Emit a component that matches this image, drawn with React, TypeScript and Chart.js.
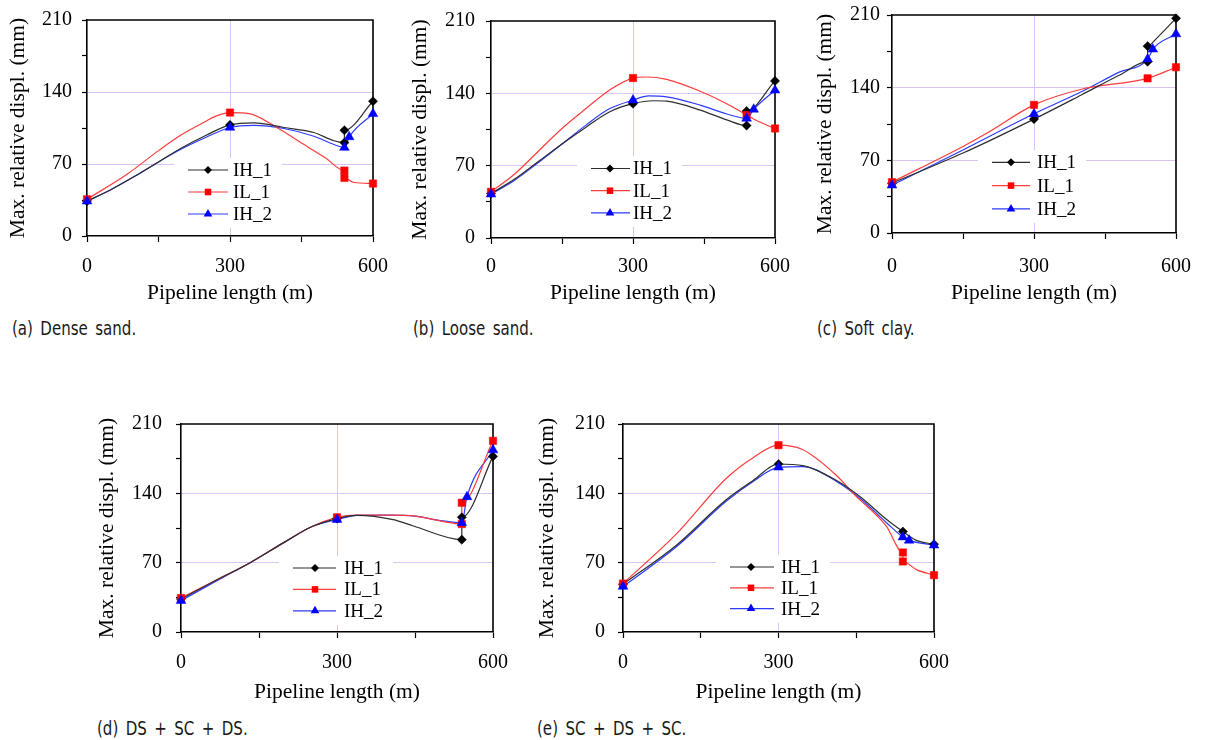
import React, { useEffect, useRef } from "react";
import { Chart, registerables } from "chart.js";

Chart.register(...registerables);

type Pt = [number, number];

// ---------- texts / ticks ----------
const seriesNames = ["IH_1", "IL_1", "IH_2"];
const xTickLabels = [0, 300, 600];
const yTickLabels = [0, 70, 140, 210];
const xGridAt = [300];
const yGridAt = [70, 140];
const xTitle = "Pipeline length (m)";
const yTitle = "Max. relative displ. (mm)";
const captions = [
  "(a) Dense sand.",
  "(b) Loose sand.",
  "(c) Soft clay.",
  "(d) DS + SC + DS.",
  "(e) SC + DS + SC.",
];

// ---------- (a) Dense sand ----------
const aIH1Line: Pt[] = [[0, 34], [50, 45], [100, 58], [150, 72], [200, 86], [250, 98], [300, 108], [350, 110], [413, 105.5], [476, 100.6], [518, 92.6], [540, 90.8], [540, 102.8], [600, 131]];
const aIH1Marks: Pt[] = [[0, 34], [300, 108], [540, 90.8], [540, 102.8], [600, 131]];
const aIL1Line: Pt[] = [[0, 35.7], [84, 60], [150, 83], [189, 95.8], [238, 108.7], [273, 117], [300, 120], [340, 119], [400, 105], [450, 90.4], [500, 76], [540, 63.6], [540, 56.5], [560, 52], [600, 51]];
const aIL1Marks: Pt[] = [[0, 35.7], [300, 120], [540, 63.6], [540, 56.5], [600, 51]];
const aIH2Line: Pt[] = [[0, 33.8], [50, 45], [100, 58], [150, 72], [200, 85], [250, 96], [300, 105.5], [350, 107.5], [413, 104.5], [476, 97], [518, 89], [540, 86], [550, 96.3], [600, 118.8]];
const aIH2Marks: Pt[] = [[0, 33.8], [300, 105.5], [540, 86], [550, 96.3], [600, 118.8]];

// ---------- (b) Loose sand ----------
const bIH1Line: Pt[] = [[0, 43], [50, 57], [100, 74], [150, 91], [200, 107], [250, 122], [300, 130], [343, 132.8], [371, 132.4], [442, 123.8], [498, 114.3], [540, 108.8], [540, 122.9], [600, 152]];
const bIH1Marks: Pt[] = [[0, 43], [300, 130], [540, 108.8], [540, 122.9], [600, 152]];
const bIL1Line: Pt[] = [[0, 44.7], [50, 62], [100, 84], [150, 106], [200, 125], [250, 143], [300, 154.8], [329, 155.8], [371, 153.5], [442, 142], [498, 130], [540, 119], [569, 112], [600, 106]];
const bIL1Marks: Pt[] = [[0, 44.7], [300, 154.8], [540, 119], [600, 106]];
const bIH2Line: Pt[] = [[0, 42.4], [50, 56], [100, 73], [150, 91], [200, 109], [250, 125], [300, 133.4], [333, 137.6], [371, 136.6], [442, 128.6], [498, 120], [540, 115.8], [555, 124.5], [600, 143]];
const bIH2Marks: Pt[] = [[0, 42.4], [300, 133.4], [540, 115.8], [555, 124.5], [600, 143]];

// ---------- (c) Soft clay ----------
const cIH1Line: Pt[] = [[0, 48], [150, 77], [300, 109.7], [400, 133], [480, 152], [540, 165], [540, 180], [560, 188], [600, 206.8]];
const cIH1Marks: Pt[] = [[0, 48], [300, 109.7], [540, 165], [540, 180], [600, 206.8]];
const cIL1Line: Pt[] = [[0, 49], [150, 83.4], [200, 96], [300, 123.4], [400, 138.5], [540, 149], [600, 159.7]];
const cIL1Marks: Pt[] = [[0, 49], [300, 123.4], [540, 149], [600, 159.7]];
const cIH2Line: Pt[] = [[0, 46], [150, 80], [300, 114.8], [400, 136], [480, 155], [540, 167.4], [551, 177], [600, 191.7]];
const cIH2Marks: Pt[] = [[0, 46], [300, 114.8], [540, 167.4], [551, 177], [600, 191.7]];

// ---------- (d) DS + SC + DS ----------
const dIH1Line: Pt[] = [[0, 33.4], [70, 53], [133, 70], [200, 91], [250, 106], [300, 114.5], [338, 117.8], [408, 113.5], [447, 107], [540, 93.2], [540, 115.8], [600, 177.3]];
const dIH1Marks: Pt[] = [[0, 33.4], [300, 114.5], [540, 93.2], [540, 115.8], [600, 177.3]];
const dIL1Line: Pt[] = [[0, 34.3], [70, 53], [133, 70], [200, 91], [250, 106], [300, 115.8], [338, 118], [400, 118], [450, 117], [500, 112], [540, 109], [540, 130.5], [600, 193]];
const dIL1Marks: Pt[] = [[0, 34.3], [300, 115.8], [540, 109], [540, 130.5], [600, 193]];
const dIH2Line: Pt[] = [[0, 31.7], [70, 52], [133, 70], [200, 91], [250, 106], [300, 113.5], [338, 117.8], [400, 118], [450, 117], [500, 112.5], [540, 110.2], [550, 136.4], [600, 183.8]];
const dIH2Marks: Pt[] = [[0, 31.7], [300, 113.5], [540, 110.2], [550, 136.4], [600, 183.8]];

// ---------- (e) SC + DS + SC ----------
const eIH1Line: Pt[] = [[0, 48.2], [103, 87.6], [199, 133.5], [251, 153], [300, 169.6], [347, 168], [412, 153], [457, 136.8], [508, 113.8], [540, 101.4], [566, 92.5], [600, 88.6]];
const eIH1Marks: Pt[] = [[0, 48.2], [300, 169.6], [540, 101.4], [600, 88.6]];
const eIL1Line: Pt[] = [[0, 48.9], [103, 99], [199, 155], [251, 176], [300, 188.6], [347, 184], [412, 158], [444, 140], [508, 107], [540, 80.3], [540, 71.2], [566, 63], [600, 57.4]];
const eIL1Marks: Pt[] = [[0, 48.9], [300, 188.6], [540, 80.3], [540, 71.2], [600, 57.4]];
const eIH2Line: Pt[] = [[0, 45.9], [103, 86], [199, 132], [251, 152], [300, 166.3], [347, 167], [412, 152], [457, 135], [508, 110.6], [540, 95.8], [552, 92.5], [600, 87.6]];
const eIH2Marks: Pt[] = [[0, 45.9], [300, 166.3], [540, 95.8], [552, 92.5], [600, 87.6]];

const panelLines: Pt[][][] = [
  [aIH1Line, aIL1Line, aIH2Line],
  [bIH1Line, bIL1Line, bIH2Line],
  [cIH1Line, cIL1Line, cIH2Line],
  [dIH1Line, dIL1Line, dIH2Line],
  [eIH1Line, eIL1Line, eIH2Line],
];
const panelMarks: Pt[][][] = [
  [aIH1Marks, aIL1Marks, aIH2Marks],
  [bIH1Marks, bIL1Marks, bIH2Marks],
  [cIH1Marks, cIL1Marks, cIH2Marks],
  [dIH1Marks, dIL1Marks, dIH2Marks],
  [eIH1Marks, eIL1Marks, eIH2Marks],
];

// ---------- styles / layout ----------
const LINE_COLORS = ["#2e2e2e", "#ff3c3c", "#2b3cff"];
const MARK_COLORS = ["#000000", "#ff0000", "#0000ff"];
const MARK_STYLES = ["rectRot", "rect", "triangle"];
const MARK_RADII = [4.6, 5.2, 5.6];
const GRID = "#d8c4f6";
const SERIF = "'Liberation Serif', 'Times New Roman', serif";
const TICK_SIZE = 20;
const TITLE_SIZE = 21.5;
const TITLE_LH = TITLE_SIZE * 1.2;

// plot: [left, top, right, bottom] in page px ; leg: [dx, dy, gap, lineLen, markerX, textX]
const layouts = [
  { plot: [87, 18, 373, 236], yTitleX: 18, xTitleY: 293, xTickY: 267, yTickGap: 15, cap: [12, 328], leg: [101, 150, 22, 40, 20, 45] },
  { plot: [491, 18, 775, 238], yTitleX: 420, xTitleY: 293, xTickY: 267, yTickGap: 16, cap: [413, 328], leg: [100, 147.5, 22.2, 39, 19, 42] },
  { plot: [892, 15, 1177, 233], yTitleX: 825, xTitleY: 293, xTickY: 267, yTickGap: 12, cap: [817, 328], leg: [100, 147.3, 23.3, 38, 19, 45] },
  { plot: [181, 418, 493, 632], yTitleX: 107, xTitleY: 692, xTickY: 663, yTickGap: 19, cap: [97, 728], leg: [112, 144, 21.4, 43, 22, 51] },
  { plot: [623, 419, 934, 632], yTitleX: 547, xTitleY: 692, xTickY: 663, yTickGap: 18, cap: [537, 728], leg: [107, 143, 20.8, 44, 21, 51] },
];

const toXY = (a: Pt[]) => a.map(([x, y]) => ({ x, y }));

function drawMarker(ctx: CanvasRenderingContext2D, style: string, x: number, y: number, r: number, color: string) {
  ctx.save();
  ctx.fillStyle = color;
  ctx.beginPath();
  if (style === "rectRot") {
    ctx.moveTo(x, y - r);
    ctx.lineTo(x + r, y);
    ctx.lineTo(x, y + r);
    ctx.lineTo(x - r, y);
  } else if (style === "rect") {
    const s = r * Math.SQRT1_2;
    ctx.rect(x - s, y - s, 2 * s, 2 * s);
  } else {
    let rad = 0;
    for (let k = 0; k < 3; k++) {
      const px = x + Math.sin(rad) * r;
      const py = y - Math.cos(rad) * r;
      if (k === 0) ctx.moveTo(px, py);
      else ctx.lineTo(px, py);
      rad += (2 * Math.PI) / 3;
    }
  }
  ctx.closePath();
  ctx.fill();
  ctx.restore();
}

function Panel({ idx }: { idx: number }) {
  const ref = useRef<HTMLCanvasElement>(null);
  const L = layouts[idx];
  const [pl, pt, pr, pb] = L.plot;
  const cLeft = Math.floor(L.yTitleX - TITLE_LH / 2 - 1);
  const cTop = pt - 20;
  const cRight = pr + 30;
  const cBottom = Math.ceil(L.xTitleY + TITLE_LH / 2 + 1);
  const W = cRight - cLeft;
  const H = cBottom - cTop;

  useEffect(() => {
    if (!ref.current) return;
    const lines = panelLines[idx];
    const marks = panelMarks[idx];
    const datasets: any[] = [];
    for (let s = 0; s < 3; s++) {
      datasets.push({
        label: seriesNames[s],
        data: toXY(lines[s]),
        borderColor: LINE_COLORS[s],
        borderWidth: 1.2,
        pointRadius: 0,
        pointHoverRadius: 0,
        cubicInterpolationMode: "monotone",
        fill: false,
        clip: false,
        order: 10 + s,
      });
    }
    for (let s = 0; s < 3; s++) {
      datasets.push({
        label: seriesNames[s] + " points",
        data: toXY(marks[s]),
        showLine: false,
        pointStyle: MARK_STYLES[s],
        pointRadius: MARK_RADII[s],
        pointHoverRadius: MARK_RADII[s],
        pointBackgroundColor: MARK_COLORS[s],
        pointBorderColor: MARK_COLORS[s],
        pointBorderWidth: 0.5,
        clip: false,
        order: 3 - s,
      });
    }

    const framePlugin = {
      id: "frame",
      beforeDatasetsDraw(chart: any) {
        const { ctx, chartArea: a } = chart;
        ctx.save();
        ctx.strokeStyle = "#000";
        ctx.lineWidth = 1.6;
        ctx.beginPath();
        ctx.moveTo(a.left, a.top);
        ctx.lineTo(a.right, a.top);
        ctx.lineTo(a.right, a.bottom);
        ctx.stroke();
        ctx.restore();
      },
    };

    const legendPlugin = {
      id: "boxLegend",
      afterDatasetsDraw(chart: any) {
        const { ctx, chartArea: a } = chart;
        const [dx, dy, gap, len, mk, tx] = L.leg;
        const x0 = a.left + dx;
        const y0 = a.top + dy;
        ctx.save();
        ctx.font = `19px ${SERIF}`;
        const textW = Math.max(...seriesNames.map((n) => ctx.measureText(n).width));
        ctx.fillStyle = "#fff";
        ctx.fillRect(x0 - 14, y0 - 12, tx + textW + 24, 2 * gap + 26);
        seriesNames.forEach((n, i) => {
          const y = y0 + i * gap;
          ctx.strokeStyle = LINE_COLORS[i];
          ctx.lineWidth = 1.2;
          ctx.beginPath();
          ctx.moveTo(x0, y);
          ctx.lineTo(x0 + len, y);
          ctx.stroke();
          drawMarker(ctx, MARK_STYLES[i], x0 + mk, y, MARK_RADII[i] - 0.6, MARK_COLORS[i]);
          ctx.fillStyle = "#000";
          ctx.textBaseline = "middle";
          ctx.textAlign = "left";
          ctx.fillText(n, x0 + tx, y + 1);
        });
        ctx.restore();
      },
    };

    const chart = new Chart(ref.current, {
      type: "line",
      data: { datasets },
      options: {
        responsive: false,
        animation: false,
        devicePixelRatio: 1,
        layout: { padding: { left: 0, top: 20, right: 30, bottom: 0 } },
        plugins: { legend: { display: false }, tooltip: { enabled: false } },
        events: [],
        scales: {
          x: {
            type: "linear",
            min: 0,
            max: 600,
            afterFit: (s: any) => {
              s.height = cBottom - pb;
            },
            ticks: {
              stepSize: 150,
              autoSkip: false,
              maxRotation: 0,
              color: "#000",
              font: { family: SERIF, size: TICK_SIZE },
              padding: L.xTickY - pb - 6 - (TICK_SIZE * 1.2) / 2,
              callback: (v: any) => (xTickLabels.includes(Number(v)) ? String(v) : ""),
            },
            grid: {
              color: (c: any) => (c.tick && xGridAt.includes(c.tick.value) ? GRID : "rgba(0,0,0,0)"),
              tickColor: "#000",
              tickLength: 6,
              tickWidth: 1.2,
              lineWidth: 1,
            },
            border: { color: "#000", width: 1.6 },
            title: {
              display: true,
              text: xTitle,
              color: "#000",
              font: { family: SERIF, size: TITLE_SIZE },
              padding: { top: 0, bottom: cBottom - L.xTitleY - TITLE_LH / 2 },
            },
          },
          y: {
            type: "linear",
            min: 0,
            max: 210,
            afterFit: (s: any) => {
              s.width = pl - cLeft;
            },
            ticks: {
              stepSize: 35,
              autoSkip: false,
              color: "#000",
              font: { family: SERIF, size: TICK_SIZE },
              padding: L.yTickGap - 5,
              callback: (v: any) => (yTickLabels.includes(Number(v)) ? String(v) : ""),
            },
            grid: {
              color: (c: any) => (c.tick && yGridAt.includes(c.tick.value) ? GRID : "rgba(0,0,0,0)"),
              tickColor: "#000",
              tickLength: 5,
              tickWidth: 1.2,
              lineWidth: 1,
            },
            border: { color: "#000", width: 1.6 },
            title: {
              display: true,
              text: yTitle,
              color: "#000",
              font: { family: SERIF, size: TITLE_SIZE },
              padding: { top: L.yTitleX - cLeft - TITLE_LH / 2, bottom: 0 },
            },
          },
        },
      },
      plugins: [framePlugin, legendPlugin],
    } as any);
    return () => chart.destroy();
  }, []);

  return (
    <>
      <canvas
        ref={ref}
        width={W}
        height={H}
        style={{ position: "absolute", left: cLeft, top: cTop, width: W, height: H }}
      />
      <div
        style={{
          position: "absolute",
          left: L.cap[0],
          top: L.cap[1] - 12,
          font: "19px 'DejaVu Sans Condensed', 'DejaVu Sans', sans-serif",
          fontStretch: "condensed",
          lineHeight: "24px",
          wordSpacing: "3px",
          whiteSpace: "nowrap",
          color: "#1a1a1a",
          transform: "scaleX(0.88)",
          transformOrigin: "left center",
        }}
      >
        {captions[idx]}
      </div>
    </>
  );
}

export default function App() {
  return (
    <div
      style={{
        position: "absolute",
        left: 0,
        top: 0,
        width: 1211,
        height: 740,
        background: "#fff",
        overflow: "hidden",
      }}
    >
      {layouts.map((_, i) => (
        <Panel key={i} idx={i} />
      ))}
    </div>
  );
}
